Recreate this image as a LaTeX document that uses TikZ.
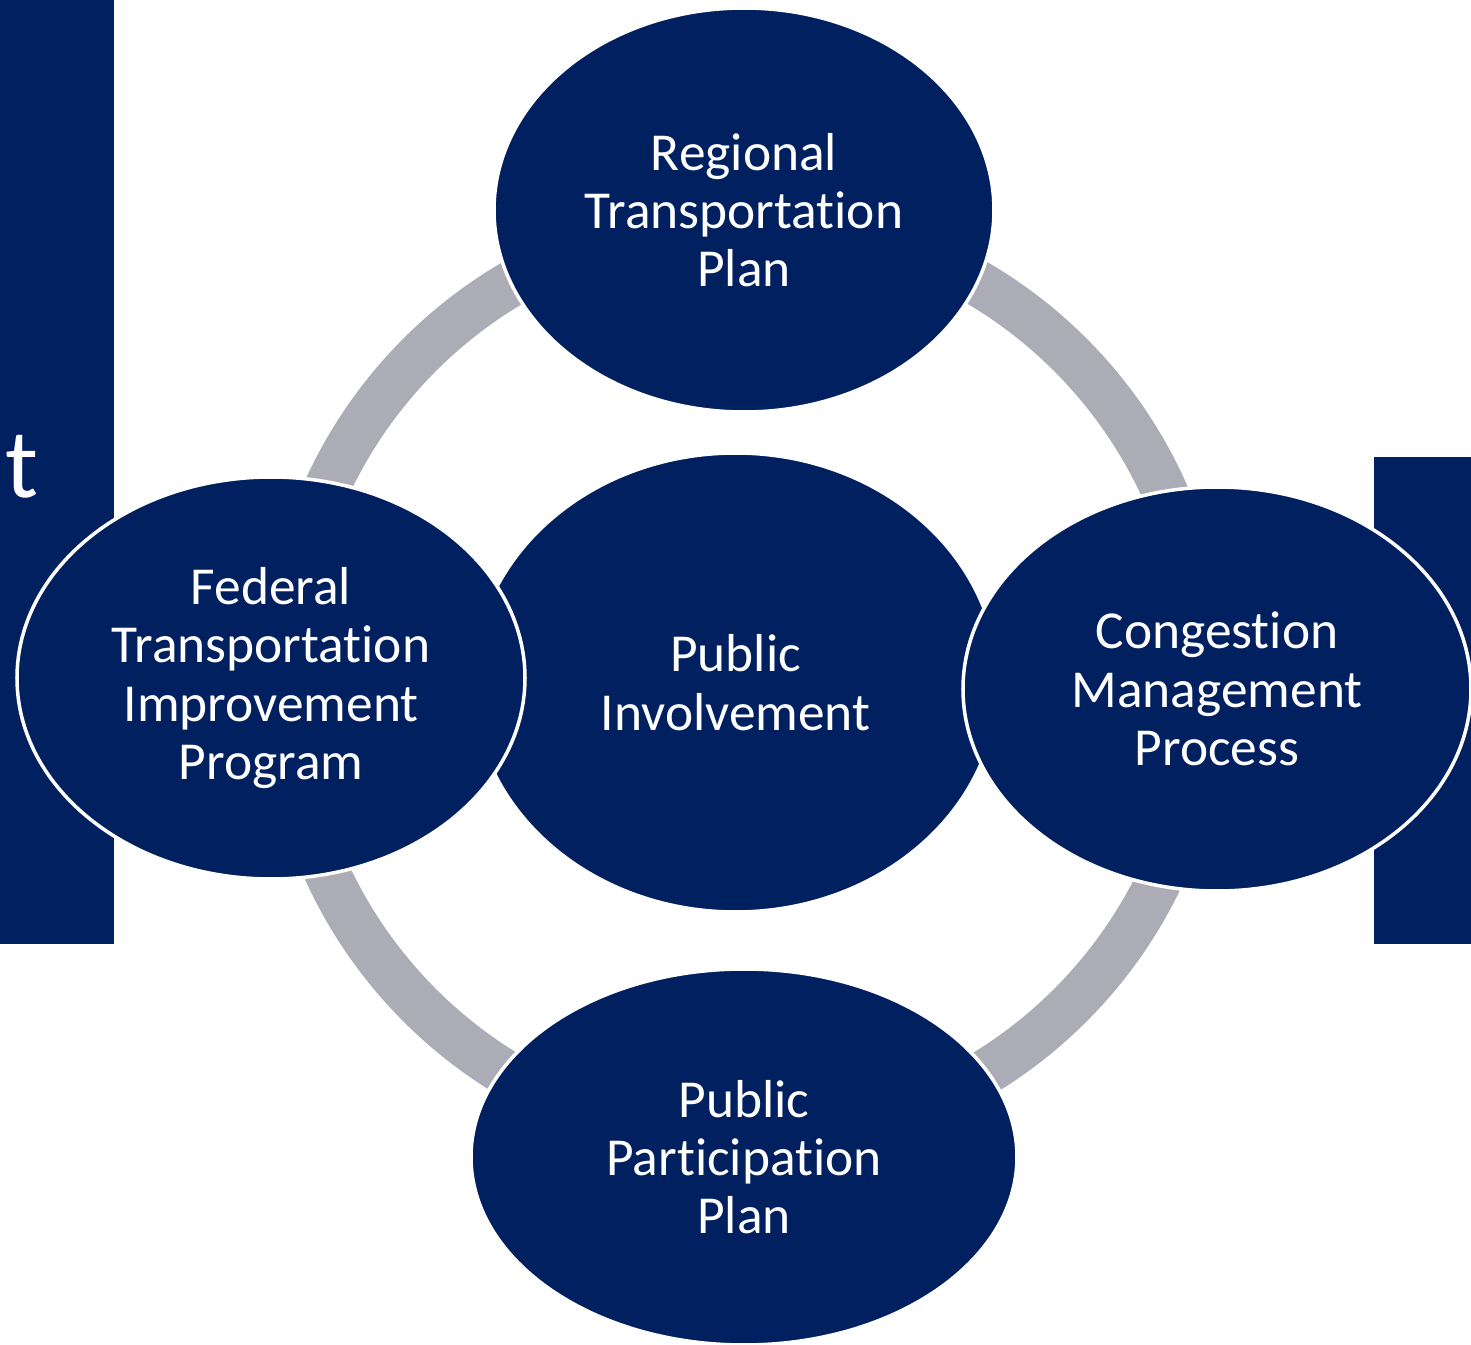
\documentclass[tikz,border=0pt]{standalone}
\usepackage{fontspec}
\setmainfont[Ligatures={NoCommon}]{Carlito}
\usepackage{xcolor}
\usepackage{tikz}
\usetikzlibrary{shapes.geometric}

\definecolor{navy}{RGB}{0,32,96}
\definecolor{ringgray}{RGB}{171,172,182}

\begin{document}
\begin{tikzpicture}[x = 1cm, y = 1cm,
    bar/.style = {fill = navy},
    ring/.style = {draw = ringgray, line width = 0.46cm},
    bubble/.style = {ellipse, fill = navy, draw = white, line width = 1pt,
        inner sep = 0pt, text = white, align = center,
        font = \fontsize{15.2}{16.6}\selectfont}]
\useasboundingbox (0, 0) rectangle (14.71, -13.45);

% side bars
\fill [bar] (0, 0) rectangle (1.14, -9.44);
\fill [bar] (13.74, -4.57) rectangle (14.71, -9.44);
\node [text = white, anchor = base, inner sep = 0pt,
    font = \fontsize{28}{30}\selectfont] (cut) at (0.22, -4.97) {t};

% ring
\draw [ring] (7.45, -6.80) circle (4.60);

% bubbles
\node [bubble, minimum width = 5.25cm, minimum height = 4.59cm]
    (pi) at (7.355, -6.825) {Public\\Involvement};
\node [bubble, minimum width = 5.00cm, minimum height = 4.04cm]
    (rtp) at (7.44, -2.10) {Regional\\Transportation\\Plan};
\node [bubble, minimum width = 5.08cm, minimum height = 4.02cm]
    (ftip) at (2.71, -6.78) {Federal\\Transportation\\Improvement\\Program};
\node [bubble, minimum width = 5.08cm, minimum height = 4.04cm]
    (cmp) at (12.17, -6.89) {Congestion\\Management\\Process};
\node [bubble, minimum width = 5.46cm, minimum height = 3.76cm]
    (ppp) at (7.44, -11.57) {Public\\Participation\\Plan};
\end{tikzpicture}
\end{document}
